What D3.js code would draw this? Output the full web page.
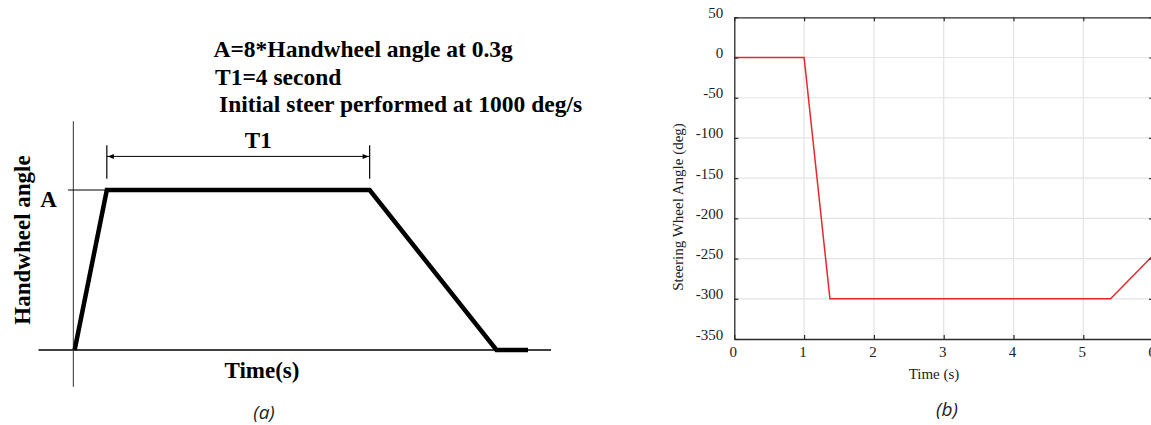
<!DOCTYPE html>
<html>
<head>
<meta charset="utf-8">
<script src="https://cdn.jsdelivr.net/npm/d3@7"></script>
<style>
  html, body { margin: 0; padding: 0; background: #fff; }
  svg { display: block; }
  .serif { font-family: "Liberation Serif", Tinos, "Times New Roman", Times, "DejaVu Serif", "Noto Serif", serif; }
  .cap { font-family: "Open Sans", "Noto Sans", sans-serif; font-style: italic; }
</style>
</head>
<body>
<svg id="fig" width="1151" height="425"></svg>
<script>
// ---- (a) schematic step-steer profile (normalised: A = 1) ----
const profileTime  = [0, 0.49, 4.49, 6.42, 6.9];
const profileAngle = [0, 1, 1, 0, 0];
const noteLines = [
  "A=8*Handwheel angle at 0.3g",
  "T1=4 second",
  "Initial steer performed at 1000 deg/s"
];

// ---- (b) measured steering wheel angle ----
const timeS      = [0, 1, 1.37, 5.39, 6.0];
const wheelDeg   = [0, 0, -300, -300, -246];
const xTicksB    = [0, 1, 2, 3, 4, 5, 6];
const yTicksB    = [50, 0, -50, -100, -150, -200, -250, -300, -350];

const svg = d3.select("#fig");

// ================= panel (a) =================
const xA = d3.scaleLinear().domain([-0.55, 7.25]).range([38.5, 551]);
const yA = d3.scaleLinear().domain([0, 1]).range([350, 190]);
const gA = svg.append("g");

// axes
gA.append("line")
  .attr("x1", xA(-0.55)).attr("x2", xA(7.25))
  .attr("y1", yA(0)).attr("y2", yA(0))
  .attr("stroke", "#000").attr("stroke-width", 1.3);
gA.append("line")
  .attr("x1", xA(-0.02)).attr("x2", xA(-0.02))
  .attr("y1", yA(1.43)).attr("y2", yA(-0.23))
  .attr("stroke", "#333").attr("stroke-width", 1);

// level marker for A
gA.append("line")
  .attr("x1", xA(-0.1)).attr("x2", xA(profileTime[1]))
  .attr("y1", yA(1)).attr("y2", yA(1))
  .attr("stroke", "#000").attr("stroke-width", 1);

// profile
const profile = profileTime.map((t, i) => [t, profileAngle[i]]);
gA.append("path")
  .attr("d", d3.line().x(d => xA(d[0])).y(d => yA(d[1]))(profile))
  .attr("fill", "none").attr("stroke", "#000")
  .attr("stroke-width", 4.5).attr("stroke-linejoin", "miter");

// T1 dimension
const t1a = xA(profileTime[1]), t1b = xA(profileTime[2]);
const dimY = yA(1.21);
[t1a, t1b].forEach(x => {
  gA.append("line").attr("x1", x).attr("x2", x)
    .attr("y1", yA(1.28)).attr("y2", yA(1.07))
    .attr("stroke", "#000").attr("stroke-width", 1.2);
});
gA.append("line").attr("x1", t1a).attr("x2", t1b)
  .attr("y1", dimY).attr("y2", dimY)
  .attr("stroke", "#000").attr("stroke-width", 1);
gA.append("path")
  .attr("d", `M${t1a + 1},${dimY} l6,-2.5 l0,5 Z M${t1b - 1},${dimY} l-6,-2.5 l0,5 Z`)
  .attr("fill", "#000");

const boldText = (x, y, s, anchor, size) => gA.append("text")
  .attr("class", "serif")
  .attr("x", x).attr("y", y)
  .attr("text-anchor", anchor || "start")
  .attr("font-weight", "bold").attr("font-size", size || 23)
  .text(s);

boldText((t1a + t1b) / 2 + 20, 148, "T1", "middle");
boldText(48.5, 207, "A", "middle");
boldText(262, 378, "Time(s)", "middle");
gA.append("text")
  .attr("class", "serif")
  .attr("transform", "translate(30,240) rotate(-90)")
  .attr("text-anchor", "middle")
  .attr("font-weight", "bold").attr("font-size", 23)
  .text("Handwheel angle");

const noteX = [213.5, 215, 219];
const noteY = [56.5, 84.5, 112];
noteLines.forEach((s, i) => boldText(noteX[i], noteY[i], s, "start", 23.5));

gA.append("text")
  .attr("class", "cap")
  .attr("x", 264).attr("y", 419)
  .attr("text-anchor", "middle")
  .attr("font-size", 19).attr("fill", "#222")
  .text("(a)");

// ================= panel (b) =================
const xB = d3.scaleLinear().domain([0, 6]).range([734.3, 1153.1]);
const yB = d3.scaleLinear().domain([-350, 50]).range([339, 17.3]);
const gB = svg.append("g");
const axisColor = "#2a2a2a";
const gridColor = "#e4e4e4";

// grid
gB.append("g").selectAll("line").data(xTicksB.slice(1, -1)).join("line")
  .attr("x1", d => xB(d)).attr("x2", d => xB(d))
  .attr("y1", yB(50)).attr("y2", yB(-350))
  .attr("stroke", gridColor).attr("stroke-width", 1.2);
gB.append("g").selectAll("line").data(yTicksB.slice(1, -1)).join("line")
  .attr("x1", xB(0)).attr("x2", xB(6))
  .attr("y1", d => yB(d)).attr("y2", d => yB(d))
  .attr("stroke", gridColor).attr("stroke-width", 1.2);

// data line
const series = timeS.map((t, i) => [t, wheelDeg[i]]);
gB.append("path")
  .attr("d", d3.line().x(d => xB(d[0])).y(d => yB(d[1]))(series))
  .attr("fill", "none").attr("stroke", "#e8272b").attr("stroke-width", 1.5);

// axes (ticks point inward)
const styleAxis = g => {
  g.attr("font-family", null);
  g.select(".domain").attr("stroke", axisColor).attr("stroke-width", 1.3);
  g.selectAll(".tick line").attr("stroke", axisColor).attr("stroke-width", 1.2);
  g.selectAll("text").attr("class", "serif").attr("fill", "#222");
};

const axB = gB.append("g")
  .attr("transform", `translate(0,${yB(-350)})`)
  .call(d3.axisBottom(xB).tickValues(xTicksB).tickFormat(d => String(d))
    .tickSizeInner(-4).tickSizeOuter(0).tickPadding(7))
  .call(styleAxis);
axB.selectAll("text").attr("font-size", 15).attr("dx", -1.5);

gB.append("g")
  .attr("transform", `translate(0,${yB(50)})`)
  .call(d3.axisTop(xB).tickValues(xTicksB).tickFormat("")
    .tickSizeInner(-4).tickSizeOuter(0))
  .call(styleAxis);

const axL = gB.append("g")
  .attr("transform", `translate(${xB(0)},0)`)
  .call(d3.axisLeft(yB).tickValues(yTicksB).tickFormat(d => String(d))
    .tickSizeInner(-4).tickSizeOuter(0).tickPadding(11))
  .call(styleAxis);
axL.selectAll("text").attr("font-size", 15).attr("dy", "0");

gB.append("g")
  .attr("transform", `translate(${xB(6)},0)`)
  .call(d3.axisRight(yB).tickValues(yTicksB).tickFormat("")
    .tickSizeInner(-4).tickSizeOuter(0))
  .call(styleAxis);

// titles
gB.append("text")
  .attr("class", "serif")
  .attr("x", 934).attr("y", 379)
  .attr("text-anchor", "middle")
  .attr("font-size", 15).attr("fill", "#222")
  .text("Time (s)");
gB.append("text")
  .attr("class", "serif")
  .attr("transform", "translate(683,207) rotate(-90)")
  .attr("text-anchor", "middle")
  .attr("font-size", 15).attr("fill", "#222")
  .text("Steering Wheel Angle (deg)");

gB.append("text")
  .attr("class", "cap")
  .attr("x", 947).attr("y", 416)
  .attr("text-anchor", "middle")
  .attr("font-size", 19).attr("fill", "#222")
  .text("(b)");
</script>
</body>
</html>
